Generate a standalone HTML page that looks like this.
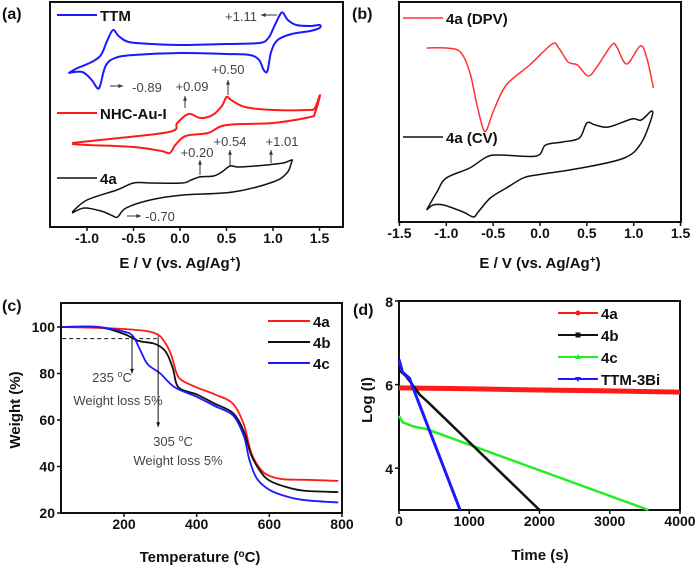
<!DOCTYPE html>
<html><head><meta charset="utf-8"><style>
body{margin:0;background:#fff;}
svg{display:block;font-family:"Liberation Sans",Arial,sans-serif;}
.tk{font-size:14px;font-weight:bold;fill:#111;}
.tt{font-size:15px;font-weight:bold;fill:#111;}
.pl{font-size:16px;font-weight:bold;fill:#111;}
.lg{font-size:15px;font-weight:bold;fill:#111;}
.an{font-size:13px;fill:#444;}
</style></head><body>
<svg id="fig" width="700" height="567" viewBox="0 0 700 567" xmlns="http://www.w3.org/2000/svg"></svg>
<script>
// ---- Panel (a) data: potential (V), current (a.u.) ----
const ttmV=[-1.2,-1.1,-0.95,-0.85,-0.78,-0.72,-0.66,-0.55,-0.3,0,0.5,0.85,0.95,1.02,1.08,1.11,1.16,1.25,1.4,1.5,1.5,1.4,1.2,1.05,0.98,0.94,0.9,0.85,0.75,0.5,0,-0.5,-0.7,-0.8,-0.86,-0.89,-0.95,-1.05,-1.2];
const ttmI=[154,159,165,172,187,197,191,185,183,182,183,184,189,202,213,214,207,202,201,202,199,196,193,187,175,156,157,167,172,173,174,172,169,161,141,139,147,155,154];
const nhcV=[-1.16,-0.86,-0.12,-0.03,0.09,0.22,0.35,0.45,0.5,0.55,0.7,1.0,1.38,1.45,1.5,1.5,1.45,1.4,1.0,0.5,0.3,0.06,-0.05,-0.11,-0.2,-0.5,-1.0,-1.16];
const nhcI=[84,87,95,104,113,109,112,121,130,127,120,117,117,119,131,129,114,110,104,102,94,91,82,74,76,80,82,83];
const a4V=[-1.16,-1.0,-0.68,-0.5,-0.32,0.02,0.12,0.21,0.36,0.45,0.54,0.64,0.93,1.11,1.2,1.2,1.15,1.0,0.57,0.03,-0.32,-0.58,-0.67,-0.72,-0.85,-1.03,-1.16];
const a4I=[15,27,37,44,44,44,47,50,51,55,61,60,62,64,67,65,54,45,35,32,27,19,10,11,16,19,14];
// ---- Panel (b) data ----
const dpvV=[-1.21,-1.0,-0.85,-0.75,-0.68,-0.61,-0.57,-0.5,-0.36,-0.11,0.13,0.2,0.3,0.4,0.51,0.6,0.765,0.82,0.925,1.07,1.14,1.21];
const dpvI=[179,179,175,155,125,99,97,115,142,162,183,179,165,162,151,159,182,180,163,181,169,139];
const cvV=[-1.21,-1.1,-1.0,-0.75,-0.57,-0.43,-0.04,0.06,0.24,0.42,0.5,0.59,0.73,0.98,1.08,1.19,1.19,1.08,0.9,0.44,-0.04,-0.18,-0.36,-0.53,-0.66,-0.71,-0.82,-1.03,-1.14,-1.21];
const cvI=[17,35,49,59,70,72,71,82,85,89,104,102,100,108,107,116,109,84,69,59,52,49,39,29,15,10,15,22,22,17];
// ---- Panel (c) data: temperature (C), weight (%) ----
const tgaT4a=[30,150,250,290,310,330,345,360,400,450,500,530,550,575,600,640,700,790];
const tgaW4a=[100,99.5,98.5,97,94,88,80,77,74,71,67,58,46,39,36,34.5,34.3,33.8];
const tgaT4b=[30,130,200,240,280,305,320,335,350,400,450,500,530,550,575,600,650,700,790];
const tgaW4b=[100,100,97,94,93,91,88,82,74,71,67,63,55,45,38,34,31,29.5,29];
const tgaT4c=[30,130,200,225,245,265,300,340,400,450,500,530,545,565,600,650,700,790];
const tgaW4c=[100,100,98,96,90,84,80,74,70,66,62,53,43,35,30,27,25.5,24.5];
// ---- Panel (d) data: time (s), log(I) ----
const tA=[0,1000,2000,3000,4000];const lA=[5.92,5.9,5.87,5.85,5.82];
const tB=[0,100,300,400,2000];const lB=[6.35,6.2,5.75,5.6,3.0];
const tC=[0,50,200,400,3550];const lC=[5.25,5.1,5.0,4.93,3.0];
const tD=[0,50,150,250,870];const lD=[6.6,6.3,6.15,5.7,3.0];
const xTicksAB=[-1.5,-1.0,-0.5,0.0,0.5,1.0,1.5];
const yTicksC=[20,40,60,80,100];const xTicksC=[200,400,600,800];
const yTicksD=[4,6,8];const xTicksD=[0,1000,2000,3000,4000];

const NS="http://www.w3.org/2000/svg";const svg=document.getElementById('fig');
function el(t,a,p){const e=document.createElementNS(NS,t);for(const k in a)e.setAttribute(k,a[k]);(p||svg).appendChild(e);return e;}
function txt(x,y,s,cls,anchor){const e=el('text',{x:x,y:y,'class':cls,'text-anchor':anchor||'middle'});e.textContent=s;return e;}
function path(xs,ys,fx,fy,col,w,smooth){const P=xs.map((x,i)=>[fx(x),fy(ys[i])]);let d='M'+P[0][0].toFixed(1)+' '+P[0][1].toFixed(1);
 for(let i=0;i<P.length-1;i++){if(!smooth){d+='L'+P[i+1][0].toFixed(1)+' '+P[i+1][1].toFixed(1);continue;}
  const p0=P[Math.max(i-1,0)],p1=P[i],p2=P[i+1],p3=P[Math.min(i+2,P.length-1)],k=1/6;
  const c1=[p1[0]+(p2[0]-p0[0])*k,p1[1]+(p2[1]-p0[1])*k],c2=[p2[0]-(p3[0]-p1[0])*k,p2[1]-(p3[1]-p1[1])*k];
  d+=`C${c1[0].toFixed(1)} ${c1[1].toFixed(1)} ${c2[0].toFixed(1)} ${c2[1].toFixed(1)} ${p2[0].toFixed(1)} ${p2[1].toFixed(1)}`;}
 return el('path',{d:d,fill:'none',stroke:col,'stroke-width':w,'stroke-linejoin':'round'});}
function arrow(x1,y1,x2,y2,col){const l=el('line',{x1:x1,y1:y1,x2:x2,y2:y2,stroke:col,'stroke-width':1});const a=Math.atan2(y2-y1,x2-x1),s=5;el('path',{d:`M${x2} ${y2}L${x2-s*Math.cos(a-0.4)} ${y2-s*Math.sin(a-0.4)}L${x2-s*Math.cos(a+0.4)} ${y2-s*Math.sin(a+0.4)}Z`,fill:col});return l;}
function frame(x,y,w,h){return el('rect',{x:x,y:y,width:w,height:h,fill:'none',stroke:'#111','stroke-width':2});}

// Panel a
const xa=v=>180+v*93, ya=i=>227-i;
let f=frame(50,2,293,225);
let e;
for(const t of xTicksAB.slice(1)){el('line',{x1:xa(t),y1:227,x2:xa(t),y2:231,stroke:'#111','stroke-width':1.5});e=txt(xa(t),243,t.toFixed(1),'tk');}
e=txt(180,268,'E / V (vs. Ag/Ag','tt');
const s1=el('tspan',{'baseline-shift':'super','font-size':'10'},e);s1.textContent='+';const s2=el('tspan',{},e);s2.textContent=')';
e=txt(2,19,'(a)','pl','start');
e=path(ttmV,ttmI,xa,ya,'#1a1aff',2,true);
e=path(nhcV,nhcI,xa,ya,'#ff1a1a',2,true);
e=path(a4V,a4I,xa,ya,'#111',1.5,true);
el('line',{x1:57,y1:15,x2:97,y2:15,stroke:'#1a1aff','stroke-width':2});e=txt(100,21,'TTM','lg','start');
el('line',{x1:57,y1:113,x2:97,y2:113,stroke:'#ff1a1a','stroke-width':2});e=txt(100,119,'NHC-Au-I','lg','start');
el('line',{x1:57,y1:178,x2:97,y2:178,stroke:'#111','stroke-width':1.5});e=txt(100,184,'4a','lg','start');
const ann=[[241,21,'+1.11'],[147,92,'-0.89'],[192,91,'+0.09'],[228,74,'+0.50'],[197,157,'+0.20'],[230,146,'+0.54'],[282,146,'+1.01'],[160,221,'-0.70']];
for(const a of ann){e=txt(a[0],a[1],a[2],'an');}
arrow(277,15,261,15,'#333');arrow(110,86,123,86,'#333');arrow(185,108,185,96,'#333');arrow(228,95,228,80,'#333');arrow(200,175,200,160,'#333');arrow(230,167,230,150,'#333');arrow(271,163,271,150,'#333');arrow(127,216,141,216,'#333');

// Panel b
const xb=v=>540+v*93.7, yb=i=>227-i;
f=frame(399,2,282,220);
for(const t of xTicksAB){el('line',{x1:xb(t),y1:222,x2:xb(t),y2:226,stroke:'#111','stroke-width':1.5});e=txt(xb(t),238,t.toFixed(1),'tk');}
e=txt(540,268,'E / V (vs. Ag/Ag','tt');
const s3=el('tspan',{'baseline-shift':'super','font-size':'10'},e);s3.textContent='+';const s4=el('tspan',{},e);s4.textContent=')';
e=txt(352,19,'(b)','pl','start');
e=path(dpvV,dpvI,xb,yb,'#ff3333',1.5,true);
e=path(cvV,cvI,xb,yb,'#111',1.5,true);
el('line',{x1:403,y1:18,x2:443,y2:18,stroke:'#ff3333','stroke-width':1.5});e=txt(446,24,'4a (DPV)','lg','start');
el('line',{x1:403,y1:137,x2:443,y2:137,stroke:'#111','stroke-width':1.5});e=txt(446,143,'4a (CV)','lg','start');

// Panel c
const xc=t=>124+(t-200)*0.3633, yc=w=>327-(w-100)*2.325;
f=frame(61,303,281,210);
for(const t of yTicksC){el('line',{x1:57,y1:yc(t),x2:61,y2:yc(t),stroke:'#111','stroke-width':1.5});e=txt(55,yc(t)+5,String(t),'tk','end');}
for(const t of xTicksC){el('line',{x1:xc(t),y1:513,x2:xc(t),y2:517,stroke:'#111','stroke-width':1.5});e=txt(xc(t),529,String(t),'tk');}
e=txt(200,562,'Temperature (','tt');
let s5=el('tspan',{'baseline-shift':'super','font-size':'10'},e);s5.textContent='o';let s6=el('tspan',{},e);s6.textContent='C)';
e=el('text',{x:0,y:0,'class':'tt','text-anchor':'middle',transform:'translate(20,410) rotate(-90)'});e.textContent='Weight (%)';
e=txt(2,311,'(c)','pl','start');
el('line',{x1:xc(30),y1:yc(95),x2:xc(290),y2:yc(95),stroke:'#111','stroke-width':1,'stroke-dasharray':'4,3'});
e=path(tgaT4a,tgaW4a,xc,yc,'#ff1a1a',1.8,true);
e=path(tgaT4b,tgaW4b,xc,yc,'#111',1.8,true);
e=path(tgaT4c,tgaW4c,xc,yc,'#1a1aff',1.8,true);
arrow(xc(222),yc(96),xc(222),yc(80),'#111');arrow(xc(294),yc(96),xc(294),yc(57),'#111');
e=txt(112,382,'235 ','an');let s7=el('tspan',{'baseline-shift':'super','font-size':'9'},e);s7.textContent='o';let s8=el('tspan',{},e);s8.textContent='C';
e=txt(118,405,'Weight loss 5%','an');
e=txt(173,446,'305 ','an');let s9=el('tspan',{'baseline-shift':'super','font-size':'9'},e);s9.textContent='o';let s10=el('tspan',{},e);s10.textContent='C';
e=txt(178,465,'Weight loss 5%','an');
const lc=[['4a','#ff1a1a',321],['4b','#111',342],['4c','#1a1aff',363]];
for(const l of lc){el('line',{x1:268,y1:l[2],x2:310,y2:l[2],stroke:l[1],'stroke-width':2});e=txt(313,l[2]+6,l[0],'lg','start');}

// Panel d
const xd=t=>399+t/4000*281, yd=v=>510-(v-3)*41.8;
f=frame(399,301,281,209);
for(const t of yTicksD){el('line',{x1:395,y1:yd(t),x2:399,y2:yd(t),stroke:'#111','stroke-width':1.5});e=txt(393,yd(t)+6,String(t),'tk','end');}
for(const t of xTicksD){el('line',{x1:xd(t),y1:510,x2:xd(t),y2:514,stroke:'#111','stroke-width':1.5});e=txt(xd(t),526,String(t),'tk');}
e=txt(540,560,'Time (s)','tt');
e=el('text',{x:0,y:0,'class':'tt','text-anchor':'middle',transform:'translate(372,400) rotate(-90)'});e.textContent='Log (I)';
e=txt(353,315,'(d)','pl','start');
e=path(tA,lA,xd,yd,'#ff1a1a',5,false);
e=path(tC,lC,xd,yd,'#22ee22',2.5,false);
e=path(tB,lB,xd,yd,'#111',2.5,false);
e=path(tD,lD,xd,yd,'#1a1aff',3,false);
const ld=[['4a','#ff1a1a',313,'c'],['4b','#111',335,'s'],['4c','#22ee22',357,'t'],['TTM-3Bi','#1a1aff',379,'v']];
for(const l of ld){el('line',{x1:558,y1:l[2],x2:598,y2:l[2],stroke:l[1],'stroke-width':2});const cx=578,cy=l[2];
 if(l[3]=='c')el('circle',{cx:cx,cy:cy,r:2.5,fill:l[1]});else if(l[3]=='s')el('rect',{x:cx-2.5,y:cy-2.5,width:5,height:5,fill:l[1]});else if(l[3]=='t')el('path',{d:`M${cx} ${cy-3}L${cx+3} ${cy+2}L${cx-3} ${cy+2}Z`,fill:l[1]});else el('path',{d:`M${cx} ${cy+3}L${cx+3} ${cy-2}L${cx-3} ${cy-2}Z`,fill:l[1]});
 e=txt(601,cy+6,l[0],'lg','start');}
</script>
</body></html>
